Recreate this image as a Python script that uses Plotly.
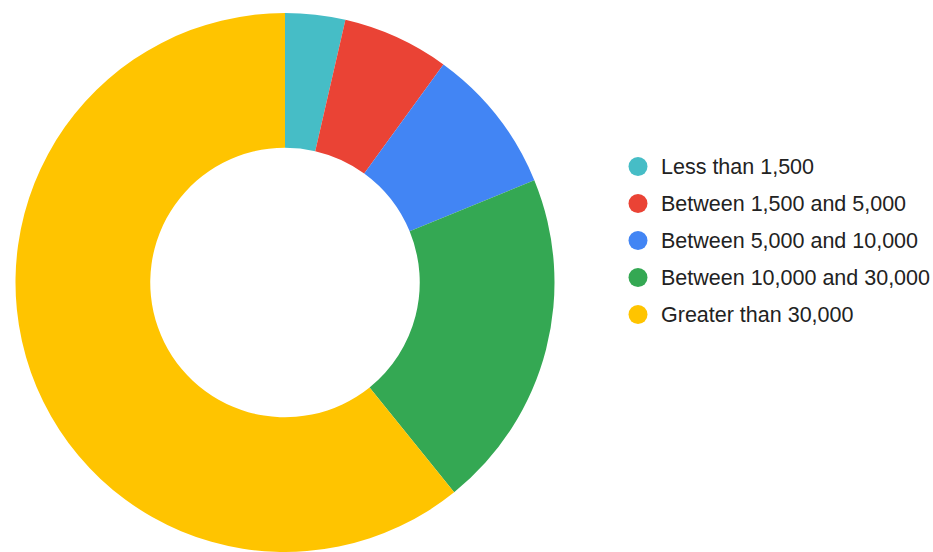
import plotly.graph_objects as go

# Share of each size band (percent of total)
labels = [
    "Less than 1,500",
    "Between 1,500 and 5,000",
    "Between 5,000 and 10,000",
    "Between 10,000 and 30,000",
    "Greater than 30,000",
]
values = [3.6, 6.4, 8.8, 20.4, 60.8]
colors = ["#46BDC6", "#EA4335", "#4285F4", "#34A853", "#FFC400"]

W, H = 933, 552
TOP = 13
PLOT_H = H - TOP

fig = go.Figure()
fig.add_trace(
    go.Pie(
        labels=labels,
        values=values,
        hole=0.5,
        sort=False,
        direction="clockwise",
        rotation=0,
        marker=dict(colors=colors, line=dict(width=0)),
        textinfo="none",
        hoverinfo="label+percent",
        showlegend=False,
        domain=dict(x=[14 / W, 556 / W], y=[0, 1]),
    )
)

# Legend on the right: round swatches with labels (pixel positions from page top)
legend_x_dot = 638
legend_x_text = 659
legend_y0 = 166.5
legend_step = 37
dot_r = 9.5


def paper_y(py):
    return 1 - (py - TOP) / PLOT_H


shapes = []
annotations = []
for i, (lab, col) in enumerate(zip(labels, colors)):
    yc = legend_y0 + i * legend_step
    shapes.append(
        dict(
            type="circle",
            xref="paper", yref="paper",
            xsizemode="pixel", ysizemode="pixel",
            xanchor=legend_x_dot / W, yanchor=paper_y(yc),
            x0=-dot_r, x1=dot_r, y0=-dot_r, y1=dot_r,
            fillcolor=col, line=dict(width=0),
        )
    )
    annotations.append(
        dict(
            text=lab,
            xref="paper", yref="paper",
            x=legend_x_text / W, y=paper_y(yc),
            xanchor="left", yanchor="middle",
            showarrow=False,
            font=dict(family="Liberation Sans, Arial, sans-serif", size=21.5, color="#222222"),
        )
    )

fig.update_layout(
    width=W,
    height=H,
    margin=dict(l=0, r=0, t=TOP, b=0),
    paper_bgcolor="white",
    plot_bgcolor="white",
    shapes=shapes,
    annotations=annotations,
)

fig.write_html("out.html")
